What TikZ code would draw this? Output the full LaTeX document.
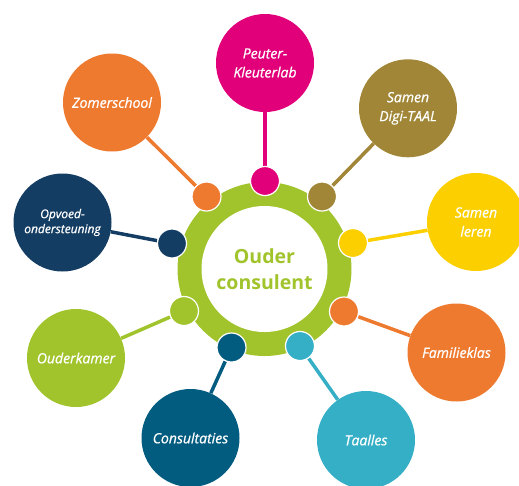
\documentclass[tikz,border=0pt]{standalone}
\usepackage{fontspec}
\setmainfont{Open Sans}
\newfontfamily\topicfont{Open Sans}[FakeBold=0.8]
\usetikzlibrary{backgrounds}

\definecolor{ocGreen}{HTML}{A1C42D}
\definecolor{ocMagenta}{HTML}{E2007A}
\definecolor{ocOrange}{HTML}{EE7A30}
\definecolor{ocBrown}{HTML}{A08636}
\definecolor{ocYellow}{HTML}{FCD000}
\definecolor{ocNavy}{HTML}{143D63}
\definecolor{ocTeal}{HTML}{025C80}
\definecolor{ocBlue}{HTML}{35AFC6}

\tikzset{
  topic/.style={circle, minimum size=98pt, inner sep=0pt, fill=#1, text=white,
    align=center, font=\topicfont\itshape\fontsize{14}{19}\selectfont},
  knob/.style={circle, minimum size=29pt, inner sep=0pt, fill=#1, draw=white, line width=1.2pt},
  link/.style={line width=3.5pt, draw=#1}
}

\begin{document}
\begin{tikzpicture}[x=1pt,y=-1pt]
  \clip (0,0) rectangle (519,485);

  % ring in the middle
  \node[circle, minimum size=174pt, inner sep=0pt, fill=ocGreen] (ring) at (264.5,269) {};
  \node[circle, minimum size=126pt, inner sep=0pt, fill=white, text=ocGreen, align=center,
    font=\bfseries\fontsize{19.5}{26}\selectfont] (core) at (264.5,269) {Ouder\\consulent};

  % knobs on the ring
  \node[knob=ocMagenta] (peuterdot)  at (265,181) {};
  \node[knob=ocOrange]  (zomerdot)   at (206.5,196.5) {};
  \node[knob=ocBrown]   (digidot)    at (322,196.5) {};
  \node[knob=ocNavy]    (opvoeddot)  at (172,243.5) {};
  \node[knob=ocYellow]  (samendot)   at (353,243) {};
  \node[knob=ocGreen]   (ouderkdot)  at (184,311) {};
  \node[knob=ocOrange]  (famildot)   at (344,311.5) {};
  \node[knob=ocTeal]    (consultdot) at (231.5,347.5) {};
  \node[knob=ocBlue]    (taaldot)    at (300,346) {};

  % outer topics
  \node[topic=ocMagenta] (peuter)  at (265,63)      {Peuter-\\Kleuterlab};
  \node[topic=ocOrange]  (zomer)   at (112,102.5)   {Zomerschool};
  \node[topic=ocBrown]   (digi)    at (408,108.3)   {Samen\\Digi-TAAL};
  \node[topic=ocYellow]  (samen)   at (476,222)     {Samen\\leren};
  \node[topic=ocNavy, font=\topicfont\itshape\fontsize{12}{15}\selectfont]
                         (opvoed)  at (62.5,222.5)  {Opvoed-\\ondersteuning};
  \node[topic=ocGreen]   (ouderk)  at (76,358)      {Ouderkamer};
  \node[topic=ocOrange]  (famil)   at (456.5,352.5) {Familieklas};
  \node[topic=ocTeal]    (consult) at (190.5,438)   {Consultaties};
  \node[topic=ocBlue]    (taal)    at (366,440)     {Taalles};

  \begin{scope}[on background layer]
    \draw[link=ocMagenta] (peuter) -- (peuterdot);
    \draw[link=ocOrange]  (zomer) -- (zomerdot);
    \draw[link=ocBrown]   (digi) -- (digidot);
    \draw[link=ocYellow]  (samen) -- (samendot);
    \draw[link=ocNavy]    (opvoed) -- (opvoeddot);
    \draw[link=ocGreen]   (ouderk) -- (ouderkdot);
    \draw[link=ocOrange]  (famil) -- (famildot);
    \draw[link=ocTeal]    (consult) -- (consultdot);
    \draw[link=ocBlue]    (taal) -- (taaldot);
  \end{scope}
\end{tikzpicture}
\end{document}
